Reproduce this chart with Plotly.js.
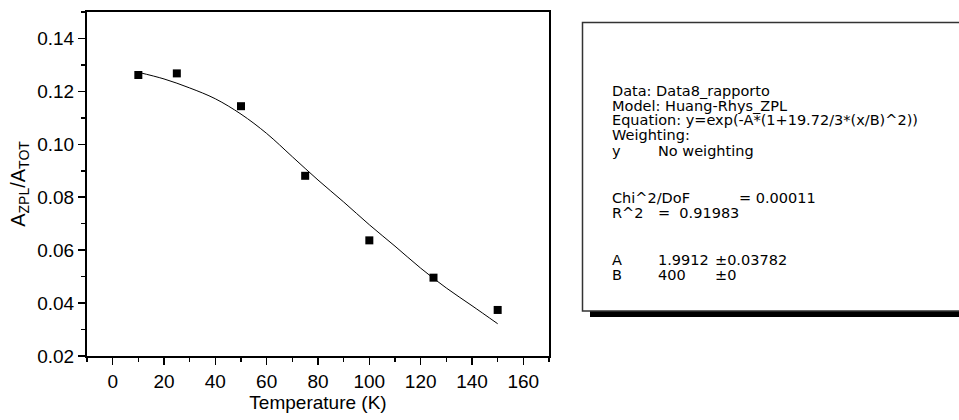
<!DOCTYPE html>
<html>
<head>
<meta charset="utf-8">
<script src="https://cdn.plot.ly/plotly-3.0.1.min.js"></script>
<style>html,body{margin:0;padding:0;background:#fff;}#chart{width:959px;height:420px;}</style>
</head>
<body>
<div id="chart"></div>
<script>
// Measured data points
const tempK = [10, 25, 50, 75, 100, 125, 150];
const ratio = [0.1262, 0.1268, 0.1144, 0.0881, 0.0637, 0.0496, 0.0374];

// Fit curve
const fitT = [10, 20, 30, 40, 50, 60, 70, 80, 90, 100, 110, 120, 130, 140, 150];
const fitY = [0.1272, 0.1247, 0.1213, 0.1172, 0.1114, 0.1041, 0.0953, 0.0865, 0.0782, 0.0696, 0.0615, 0.0532, 0.0457, 0.0390, 0.0322];

// Axis tick values/labels
const xTicks = [0, 20, 40, 60, 80, 100, 120, 140, 160];
const yTicks = [0.02, 0.04, 0.06, 0.08, 0.10, 0.12, 0.14];
const yTickText = ['0.02', '0.04', '0.06', '0.08', '0.10', '0.12', '0.14'];

// Fit report text
const reportCol1 = ['Data: Data8_rapporto', 'Model: Huang-Rhys_ZPL', 'Equation: y=exp(-A*(1+19.72/3*(x/B)^2))', 'Weighting:', 'y', 'Chi^2/DoF', 'R^2', 'A', 'B'];
const reportCol2 = ['', '', '', '', 'No weighting', '', '= &nbsp;0.91983', '1.9912', '400'];
const reportCol3 = ['', '', '', '', '', '= 0.00011', '', '±0.03782', '±0'];

const W = 959, H = 420;
const M = {l: 87, r: 410, t: 12, b: 64};
const pw = W - M.l - M.r, ph = H - M.t - M.b;
const px = x => (x - M.l) / pw;
const py = y => (H - M.b - y) / ph;

const font = 'Liberation Sans, Arial, sans-serif';
const boxFontFamily = 'DejaVu Sans, Liberation Sans, sans-serif';
const lineYs = [91, 105.6, 120.2, 134.8, 151, 198.3, 213, 260, 274.5];
const colX = [610, 656];
const col3X = [0, 0, 0, 0, 0, 737, 0, 713, 713];
const boxFont = 14.5;

const annotations = [];
reportCol1.forEach((t, i) => {
  annotations.push({xref: 'paper', yref: 'paper', x: px(colX[0]), y: py(lineYs[i]), text: t,
    showarrow: false, xanchor: 'left', yanchor: 'middle', font: {family: boxFontFamily, size: boxFont, color: '#000'}});
  if (reportCol2[i]) annotations.push({xref: 'paper', yref: 'paper', x: px(colX[1]), y: py(lineYs[i]), text: reportCol2[i],
    showarrow: false, xanchor: 'left', yanchor: 'middle', font: {family: boxFontFamily, size: boxFont, color: '#000'}});
  if (reportCol3[i]) annotations.push({xref: 'paper', yref: 'paper', x: px(col3X[i]), y: py(lineYs[i]), text: reportCol3[i],
    showarrow: false, xanchor: 'left', yanchor: 'middle', font: {family: boxFontFamily, size: boxFont, color: '#000'}});
});

const shapes = [
  {type: 'rect', xref: 'paper', yref: 'paper', x0: px(590), x1: px(970), y0: py(317), y1: py(311),
    fillcolor: '#000', line: {width: 0}},
  {type: 'rect', xref: 'paper', yref: 'paper', x0: px(582.5), x1: px(965), y0: py(311), y1: py(22.5),
    fillcolor: 'rgba(0,0,0,0)', line: {color: '#333', width: 1.5}}
];

const traces = [
  {x: fitT, y: fitY, type: 'scatter', mode: 'lines', line: {color: '#000', width: 1, shape: 'spline'}, hoverinfo: 'skip'},
  {x: tempK, y: ratio, type: 'scatter', mode: 'markers', marker: {symbol: 'square', size: 8, color: '#000'}}
];

const axisCommon = {
  showline: true, linecolor: '#000', linewidth: 2, mirror: true,
  ticks: 'outside', ticklen: 7, tickwidth: 1.5, tickcolor: '#000',
  showgrid: false, zeroline: false,
  tickfont: {family: font, size: 19, color: '#000'}
};

const layout = {
  width: W, height: H,
  margin: M,
  paper_bgcolor: '#fff', plot_bgcolor: '#fff',
  showlegend: false,
  xaxis: Object.assign({}, axisCommon, {
    range: [-10, 170], tickvals: xTicks, ticktext: xTicks.map(String),
    minor: {ticks: 'outside', ticklen: 4, tickwidth: 1.5, tickcolor: '#000', dtick: 10, tick0: 0},
    title: {text: 'Temperature (K)', font: {family: font, size: 19, color: '#000'}, standoff: 3}
  }),
  yaxis: Object.assign({}, axisCommon, {
    range: [0.02, 0.15], tickvals: yTicks, ticktext: yTickText,
    minor: {ticks: 'outside', ticklen: 4, tickwidth: 1.5, tickcolor: '#000', dtick: 0.01, tick0: 0.02},
    title: {text: 'A<sub>ZPL</sub>/A<sub>TOT</sub>', font: {family: font, size: 20, color: '#000'}, standoff: 6}
  }),
  annotations: annotations,
  shapes: shapes
};

Plotly.newPlot('chart', traces, layout, {staticPlot: true, displayModeBar: false});
</script>
</body>
</html>
